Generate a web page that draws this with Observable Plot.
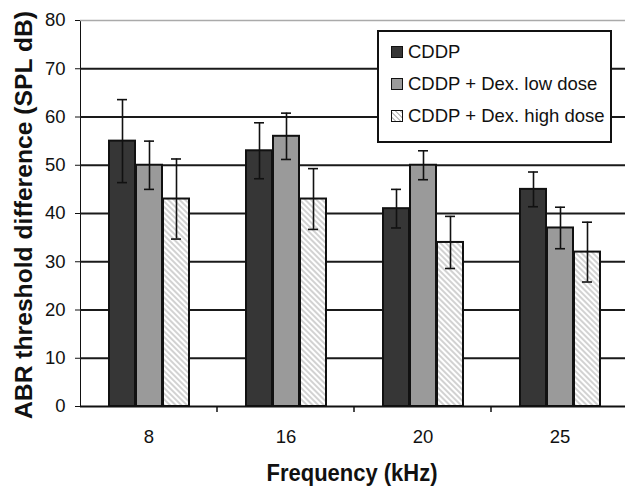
<!DOCTYPE html>
<html>
<head>
<meta charset="utf-8">
<script src="https://cdn.jsdelivr.net/npm/d3@7"></script>
<script src="https://cdn.jsdelivr.net/npm/@observablehq/plot@0.6"></script>
<style>
  html, body { margin: 0; padding: 0; background: #fff; overflow: hidden; }
  #wrap { position: relative; width: 629px; height: 486px; }
  #legend {
    position: absolute; left: 377px; top: 30px; width: 231px; height: 109px;
    border: 2px solid #111; background: #fff;
    font-family: "Liberation Sans", Arial, sans-serif; font-size: 18.5px; color: #111;
  }
  .row { position: absolute; left: 12px; display: flex; align-items: center; white-space: nowrap; }
  .sw { width: 10px; height: 10px; border: 1.5px solid #111; margin-right: 5px; }
</style>
</head>
<body>
<div id="wrap"></div>
<script>
const frequencies = ["8", "16", "20", "25"];
const seriesNames = ["CDDP", "CDDP + Dex. low dose", "CDDP + Dex. high dose"];
const cddpMean = [55, 53, 41, 45];
const cddpErr  = [8.6, 5.8, 4.0, 3.6];
const lowMean  = [50, 56, 50, 37];
const lowErr   = [5.0, 4.8, 3.0, 4.3];
const highMean = [43, 43, 34, 32];
const highErr  = [8.3, 6.3, 5.4, 6.2];
const yTicks = [0, 10, 20, 30, 40, 50, 60, 70, 80];
const fills = ["#363636", "#9a9a9a", "url(#hatch)"];

const means = [cddpMean, lowMean, highMean];
const errs = [cddpErr, lowErr, highErr];
const rows = [];
frequencies.forEach((f, i) => {
  seriesNames.forEach((s, j) => {
    rows.push({freq: f, series: s, value: means[j][i], err: errs[j][i]});
  });
});

const defs = () => {
  const ns = "http://www.w3.org/2000/svg";
  const d = document.createElementNS(ns, "defs");
  d.innerHTML = `<pattern id="hatch" patternUnits="userSpaceOnUse" width="4" height="4" patternTransform="rotate(-45)">
      <rect width="4" height="4" fill="#ffffff"></rect>
      <line x1="1" y1="0" x2="1" y2="4" stroke="#c4c4c4" stroke-width="1.5"></line>
    </pattern>`;
  return d;
};

const chart = Plot.plot({
  width: 629,
  height: 486,
  marginLeft: 79,
  marginRight: 0,
  marginTop: 20,
  marginBottom: 80,
  style: {fontFamily: "Liberation Sans, Arial, sans-serif", fontSize: "18.5px", color: "#111", background: "#fff"},
  fx: {domain: frequencies, padding: 0, label: null, tickSize: 0, tickPadding: 23},
  x: {domain: seriesNames, paddingInner: 0.055, paddingOuter: 1.01, axis: null},
  y: {domain: [0, 80], ticks: yTicks, tickSize: 5, tickPadding: 10, label: null, line: true},
  color: {domain: seriesNames, range: fills},
  marks: [
    defs,
    Plot.ruleY(yTicks.filter(t => t > 0 && t < 80), {stroke: "#1a1a1a", strokeWidth: 1.8}),
    Plot.ruleY([80], {stroke: "#aaaaaa", strokeWidth: 1.7}),
    Plot.barY(rows, {fx: "freq", x: "series", y: "value", fill: "series", stroke: "#111", strokeWidth: 2}),
    Plot.ruleX(rows, {fx: "freq", x: "series", y1: d => d.value - d.err, y2: d => d.value + d.err, stroke: "#111", strokeWidth: 1.6}),
    Plot.tickY(rows, {fx: "freq", x: "series", y: d => d.value + d.err, stroke: "#111", strokeWidth: 1.6, insetLeft: 8, insetRight: 8}),
    Plot.tickY(rows, {fx: "freq", x: "series", y: d => d.value - d.err, stroke: "#111", strokeWidth: 1.6, insetLeft: 8, insetRight: 8}),
    Plot.ruleY([0], {stroke: "#111", strokeWidth: 2})
  ]
});

document.getElementById("wrap").appendChild(chart);

// separator ticks between frequency groups, from the fx scale
const svg = d3.select(chart);
const fxs = chart.scale("fx");
const yS = chart.scale("y");
const y0 = yS.apply ? yS.apply(0) : 406;
const bandStart = v => fxs.apply ? fxs.apply(v) : null;
frequencies.slice(1).forEach(f => {
  const xp = bandStart(f);
  if (xp == null) return;
  svg.append("line").attr("x1", xp).attr("x2", xp).attr("y1", y0).attr("y2", y0 + 6)
    .attr("stroke", "#111").attr("stroke-width", 1.5);
});

// axis titles
svg.append("text")
  .attr("transform", `translate(32,215) rotate(-90)`)
  .attr("text-anchor", "middle")
  .attr("font-weight", "bold").attr("font-size", 23).attr("fill", "#111")
  .attr("textLength", 408).attr("lengthAdjust", "spacingAndGlyphs")
  .text("ABR threshold difference (SPL dB)");
svg.append("text")
  .attr("x", 352).attr("y", 481)
  .attr("text-anchor", "middle")
  .attr("font-weight", "bold").attr("font-size", 23).attr("fill", "#111")
  .attr("textLength", 171).attr("lengthAdjust", "spacingAndGlyphs")
  .text("Frequency (kHz)");

// legend
const legend = document.createElement("div");
legend.id = "legend";
seriesNames.forEach((s, j) => {
  const r = document.createElement("div");
  r.className = "row";
  r.style.top = (9 + j * 32) + "px";
  const sw = document.createElement("span");
  sw.className = "sw";
  sw.style.background = j === 2
    ? "repeating-linear-gradient(45deg, #fff 0 2px, #c4c4c4 2px 3.5px)"
    : fills[j];
  const t = document.createElement("span");
  t.textContent = s;
  r.appendChild(sw); r.appendChild(t);
  legend.appendChild(r);
});
document.getElementById("wrap").appendChild(legend);
</script>
</body>
</html>
